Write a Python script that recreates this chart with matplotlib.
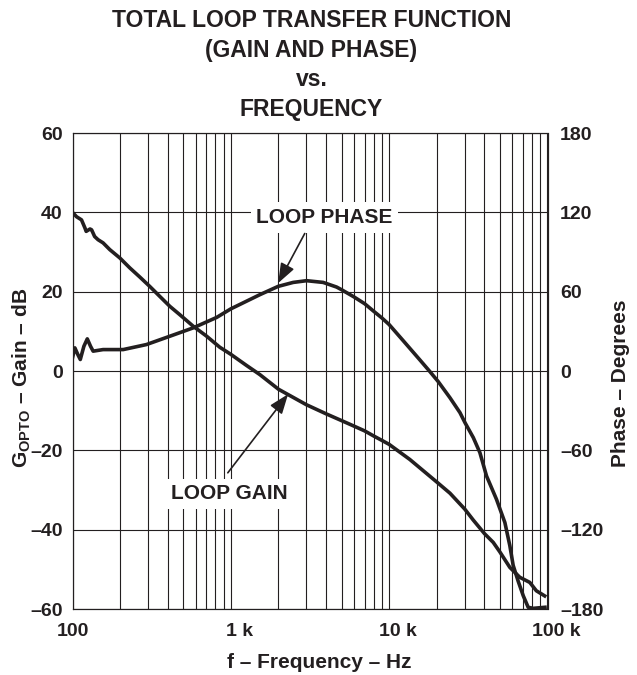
import matplotlib.pyplot as plt
import numpy as np
from matplotlib.ticker import FixedLocator, NullFormatter
from matplotlib.transforms import ScaledTranslation

plt.rcParams['font.family'] = ['Liberation Sans', 'DejaVu Sans']
plt.rcParams['font.weight'] = 'bold'
plt.rcParams['mathtext.fontset'] = 'custom'
plt.rcParams['mathtext.bf'] = 'Liberation Sans:bold'
plt.rcParams['mathtext.rm'] = 'Liberation Sans:bold'

INK = '#231f20'

# loop gain, dB
gain_freq = [100, 106, 114, 120, 122, 129, 132, 138, 145, 156, 172, 199, 230, 266, 308,
             356, 412, 476, 578, 702, 851, 1000, 1256, 1524, 2000, 3000, 4000, 5000,
             6000, 7000, 8000, 9000, 10000, 13500, 20000, 24200, 30000, 34000, 40000,
             45400, 50000, 57800, 66800, 77300, 85000, 96000]
gain_db = [40.0, 38.9, 38.1, 36.0, 35.2, 35.8, 35.6, 33.9, 33.1, 32.3, 30.6, 28.5, 26.0,
           23.7, 21.3, 18.8, 16.3, 14.2, 11.3, 8.8, 6.0, 4.2, 1.4, -0.9, -4.6, -8.5, -10.8,
           -12.5, -13.9, -15.1, -16.4, -17.5, -18.5, -22.3, -28.0, -30.8, -34.8, -37.6,
           -41.0, -43.2, -45.6, -49.5, -52.0, -53.3, -55.4, -56.7]

# loop phase, degrees
phase_freq = [100, 103.5, 108, 112, 118, 124, 130, 135, 156, 209, 293, 412, 578, 813,
              1000, 1524, 1990, 2477, 3008, 3828, 4654, 5000, 6000, 7000, 8000, 9000,
              10000, 12250, 15600, 18100, 20400, 24200, 28000, 30100, 34000, 37400, 41200,
              47600, 53800, 57800, 60700, 65300, 70300, 75500, 81300, 96400]
phase_deg = [10.0, 17.5, 12.5, 8.7, 18.7, 24.3, 18.7, 15.0, 16.2, 16.2, 20.0, 26.3, 32.6,
             40.5, 47.0, 57.7, 64.0, 67.0, 68.3, 67.0, 63.5, 61.5, 56.0, 50.9, 45.1, 40.1,
             35.1, 23.0, 8.5, -0.5, -8.0, -20.2, -31.5, -39.0, -50.4, -61.7, -79.4, -97.0,
             -114.6, -132.0, -147.0, -159.0, -170.0, -178.7, -179.5, -178.7]

gain_ticks = [-60, -40, -20, 0, 20, 40, 60]
phase_ticks = [-180, -120, -60, 0, 60, 120, 180]
freq_ticks = [100, 1000, 10000, 100000]
freq_labels = ['100', '1 k', '10 k', '100 k']


def dash(v):
    return str(v).replace('-', '\u2013')


fig = plt.figure(figsize=(6.37, 6.75), dpi=100)
ax = fig.add_axes([72.5 / 637, 66 / 675, 475 / 637, 476 / 675])
ax2 = ax.twinx()

ax.set_xscale('log')
ax.set_xlim(100, 100000)
ax.set_ylim(-60, 60)
ax2.set_ylim(-180, 180)

ax.xaxis.set_major_locator(FixedLocator(freq_ticks))
minor = [m * 10 ** d for d in range(2, 5) for m in range(2, 10)]
ax.xaxis.set_minor_locator(FixedLocator(minor))
ax.xaxis.set_minor_formatter(NullFormatter())
ax.set_xticklabels(freq_labels)
ax.set_yticks(gain_ticks)
ax.set_yticklabels([dash(v) for v in gain_ticks])
ax2.set_yticks(phase_ticks)
ax2.set_yticklabels([dash(v) for v in phase_ticks])

ax.grid(True, which='both', axis='x', color=INK, lw=0.8)
ax.grid(True, which='major', axis='y', color=INK, lw=0.8)

ax.tick_params(axis='both', which='both', length=0, labelsize=14, colors=INK)
ax.tick_params(axis='x', pad=10)
ax.tick_params(axis='y', pad=7)
ax2.tick_params(axis='y', length=0, labelsize=14, colors=INK, pad=9)
for sp in list(ax.spines.values()) + list(ax2.spines.values()):
    sp.set_color(INK)
    sp.set_linewidth(0.8)

# number part of "1 k" etc. sits centred on its grid line
for lab in ax.get_xticklabels():
    if 'k' in lab.get_text():
        lab.set_transform(lab.get_transform() + ScaledTranslation(6 / 72, 0, fig.dpi_scale_trans))

ax.plot(gain_freq, gain_db, color=INK, lw=2.6, solid_joinstyle='round', zorder=3)
ax2.plot(phase_freq, phase_deg, color=INK, lw=2.6, solid_joinstyle='round', zorder=3)

box = dict(facecolor='white', edgecolor='none', pad=4)
arrow = dict(arrowstyle='-|>,head_length=1.2,head_width=0.45', color=INK, lw=1.2,
             shrinkA=0, shrinkB=0)
ax2.text(3900, 116, 'LOOP PHASE', ha='center', va='center', fontsize=15, color=INK,
         bbox=box, zorder=5)
ax2.annotate('', xy=(1990, 66.5), xytext=(2930, 104), arrowprops=arrow, zorder=5)
ax2.text(977, -93, 'LOOP GAIN', ha='center', va='center', fontsize=15, color=INK,
         bbox=box, zorder=5)
ax2.annotate('', xy=(2300, -17.5), xytext=(957, -77), arrowprops=arrow, zorder=5)

ax.text(0.519, -0.113, 'f \u2013 Frequency \u2013 Hz', transform=ax.transAxes,
        ha='center', va='center', fontsize=15, color=INK)
ax.text(-0.107, 0.485, 'G$_{\\mathbf{OPTO}}$ \u2013 Gain \u2013 dB',
        transform=ax.transAxes, ha='center', va='center', rotation=90, fontsize=15, color=INK)
ax.text(1.153, 0.475, 'Phase \u2013 Degrees', transform=ax.transAxes,
        ha='center', va='center', rotation=90, fontsize=15, color=INK)

fig.text(0.489, 1 - 65 / 675,
         'TOTAL LOOP TRANSFER FUNCTION\n(GAIN AND PHASE)\nvs.\nFREQUENCY',
         ha='center', va='center', fontsize=16.5, color=INK, linespacing=1.38)

fig.savefig('out.png', dpi=100)
